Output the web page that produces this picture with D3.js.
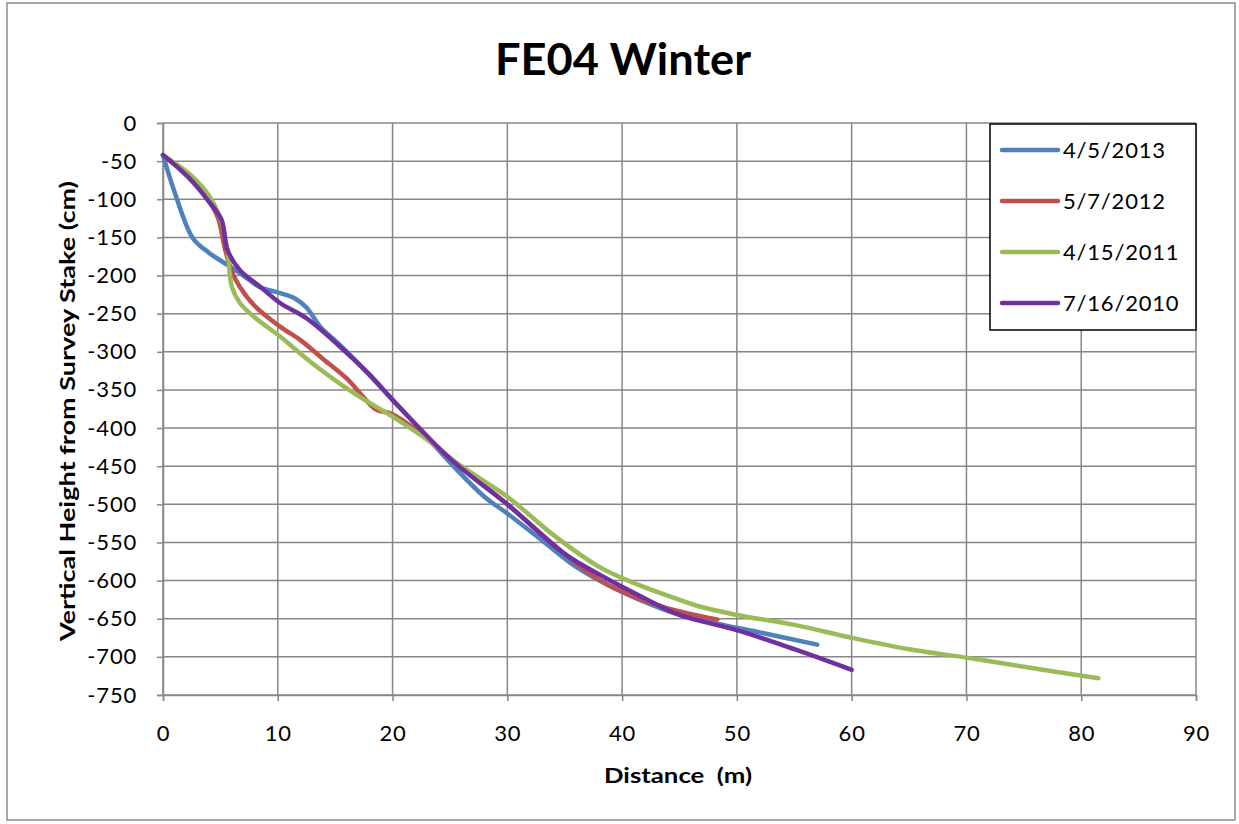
<!DOCTYPE html>
<html>
<head>
  <meta charset="utf-8">
  <title>FE04 Winter</title>
  <script src="https://d3js.org/d3.v7.min.js"></script>
  <style>
    body { margin: 0; background: #fff; }
  </style>
</head>
<body>
<div id="chart"></div>
<script type="text/javascript">
  // data: [distance (m), height (cm)]
  let seriesNames = ['4/5/2013', '5/7/2012', '4/15/2011', '7/16/2010'];
  let seriesColors = ['#4F81BD', '#C0504D', '#9BBB59', '#7030A0'];

  let s2013 = [[0,-42],[1,-90],[2.6,-151],[4,-170],[5.6,-186],[7,-200],[8.4,-215],[10.2,-223],
    [11.5,-230],[12.5,-242],[13.7,-267],[15.2,-288],[17,-315],[20,-363],[22,-395],[25,-445],
    [28,-490],[30,-512],[33,-547],[36,-582],[40,-615],[45,-645],[48.8,-658],[52,-668],[57,-684]];
  let s2012 = [[0,-42],[2.2,-70],[3.9,-100],[4.8,-125],[5.4,-165],[6,-195],[6.7,-215],[8,-240],
    [10.2,-267],[12,-285],[14,-310],[16,-335],[17.5,-360],[18.5,-375],[20,-382],[22,-402],
    [25,-440],[30,-500],[35,-565],[38,-599],[41,-621],[43.9,-636],[48.3,-651]];
  let s2011 = [[0,-42],[2.4,-68],[4,-95],[5,-125],[5.6,-165],[6,-215],[6.7,-236],[8,-255],
    [10.2,-280],[13,-315],[16.6,-354],[20,-385],[23,-415],[26,-450],[30,-490],[34,-540],
    [38,-582],[41,-603],[44.4,-622],[47,-635],[50,-645],[55,-658],[60,-675],[65,-690],
    [70,-701],[75,-713],[81.5,-728]];
  let s2010 = [[0,-42],[2.2,-71],[3.9,-101],[5.1,-127],[5.6,-166],[6.7,-193],[8.5,-215],
    [10.2,-236],[12.5,-256],[15.4,-293],[18,-330],[20,-363],[25,-440],[30,-500],[35,-565],
    [38,-592],[42.2,-625],[45,-645],[50,-665],[55,-690],[60,-717]];
  let allSeries = [s2013, s2012, s2011, s2010];

  let xTicks = d3.range(0, 91, 10);
  let yTicks = d3.range(0, -751, -50);

  let width = 1239, height = 824;
  let plot = {left: 163, top: 123, right: 1196, bottom: 695};
  let font = 'Lato, "Open Sans", sans-serif';

  let svg = d3.select('#chart')
    .append('svg')
      .attr('width', width)
      .attr('height', height)
      .style('font-family', font);

  // outer frame
  svg.append('rect')
    .attr('x', 7).attr('y', 3)
    .attr('width', 1228).attr('height', 817)
    .attr('fill', '#fff')
    .attr('stroke', '#8c8c8c')
    .attr('stroke-width', 1.5);

  let xScale = d3.scaleLinear().domain([0, 90]).range([plot.left, plot.right]);
  let yScale = d3.scaleLinear().domain([-750, 0]).range([plot.bottom, plot.top]);

  // grid
  svg.append('g')
    .selectAll('line')
    .data(xTicks)
    .enter().append('line')
      .attr('x1', d => xScale(d)).attr('x2', d => xScale(d))
      .attr('y1', plot.top).attr('y2', plot.bottom)
      .attr('stroke', '#878787').attr('stroke-width', 1.5);
  svg.append('g')
    .selectAll('line')
    .data(yTicks)
    .enter().append('line')
      .attr('x1', plot.left).attr('x2', plot.right)
      .attr('y1', d => yScale(d)).attr('y2', d => yScale(d))
      .attr('stroke', '#878787').attr('stroke-width', 1.5);

  // axes (plain hyphen for negatives, like the original)
  let xAxis = d3.axisBottom(xScale).tickValues(xTicks).tickSize(6).tickPadding(24)
    .tickFormat(d => String(d));
  let yAxis = d3.axisLeft(yScale).tickValues(yTicks).tickSize(6).tickPadding(20)
    .tickFormat(d => String(d));

  let gx = svg.append('g')
    .attr('transform', `translate(0,${plot.bottom})`)
    .call(xAxis);
  let gy = svg.append('g')
    .attr('transform', `translate(${plot.left},0)`)
    .call(yAxis);
  [gx, gy].forEach(g => {
    g.select('.domain').attr('stroke', '#878787').attr('stroke-width', 1.5);
    g.selectAll('.tick line').attr('stroke', '#878787').attr('stroke-width', 1.5);
    g.selectAll('.tick text')
      .attr('font-family', font)
      .attr('font-size', '22px')
      .attr('letter-spacing', '0.8px')
      .attr('fill', '#000');
  });

  // lines
  let line = d3.line()
    .x(d => xScale(d[0]))
    .y(d => yScale(d[1]))
    .curve(d3.curveCatmullRom.alpha(0.5));

  svg.append('g')
    .selectAll('path')
    .data(allSeries)
    .enter().append('path')
      .attr('d', line)
      .attr('fill', 'none')
      .attr('stroke', (d, i) => seriesColors[i])
      .attr('stroke-width', 4.5)
      .attr('stroke-linecap', 'round')
      .attr('stroke-linejoin', 'round');

  // title
  svg.append('text')
    .attr('x', 623).attr('y', 75)
    .attr('text-anchor', 'middle')
    .attr('font-size', '44px')
    .attr('font-weight', 'bold')
    .attr('textLength', 256)
    .attr('lengthAdjust', 'spacingAndGlyphs')
    .text('FE04 Winter');

  // axis titles
  svg.append('text')
    .attr('x', 678).attr('y', 783)
    .attr('text-anchor', 'middle')
    .attr('font-size', '21px')
    .attr('font-weight', 'bold')
    .attr('textLength', 148)
    .attr('lengthAdjust', 'spacingAndGlyphs')
    .style('white-space', 'pre')
    .text('Distance  (m)');

  svg.append('text')
    .attr('transform', 'translate(75,411) rotate(-90)')
    .attr('text-anchor', 'middle')
    .attr('font-size', '21px')
    .attr('font-weight', 'bold')
    .attr('textLength', 460)
    .attr('lengthAdjust', 'spacingAndGlyphs')
    .text('Vertical Height from Survey Stake (cm)');

  // legend
  let legend = svg.append('g');
  legend.append('rect')
    .attr('x', 990).attr('y', 124)
    .attr('width', 206).attr('height', 206)
    .attr('fill', '#fff')
    .attr('stroke', '#000')
    .attr('stroke-width', 1.5);
  let items = legend.selectAll('g')
    .data(seriesNames)
    .enter().append('g')
      .attr('transform', (d, i) => `translate(1000,${150 + i * 51})`);
  items.append('line')
    .attr('x1', 2).attr('x2', 58)
    .attr('stroke', (d, i) => seriesColors[i])
    .attr('stroke-width', 4.5)
    .attr('stroke-linecap', 'round');
  items.append('text')
    .attr('x', 63).attr('y', 8)
    .attr('font-size', '22px')
    .attr('letter-spacing', '0.8px')
    .text(d => d);
</script>
</body>
</html>
